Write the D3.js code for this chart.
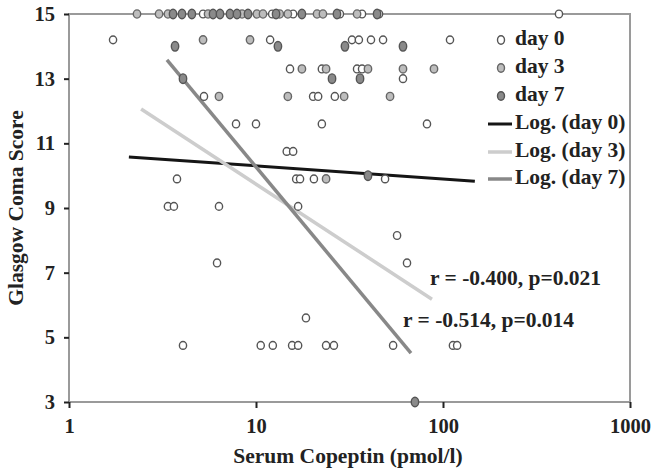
<!DOCTYPE html>
<html><head><meta charset="utf-8">
<script src="https://cdn.jsdelivr.net/npm/d3@7"></script>
<style>body{margin:0;background:#fff}svg{display:block}text{font-family:"Liberation Serif","Times New Roman",serif;font-weight:bold;fill:#222}</style>
</head><body>
<script>
// ---- data ----
const day0X = [5.21,12.2,15.8,28.1,36.9,45.5,417, 1.72,11.9,32.6,35.5,41.2,47.8,109, 15.2,22.5,34.7,36.9, 61.1, 5.27,20.2,21.5,26.4, 7.82,10.0,22.5,82.1, 14.6,15.8, 3.78,16.4,17.2,20.4,49.0, 3.38,3.64,6.34,16.8, 56.8, 6.19,64.2, 18.5, 4.07,10.6,12.3,15.6,16.8,23.7,26.1,54.1,113,119];
const day0Y = [15,15,15,15,15,15,15, 14.2,14.2,14.2,14.2,14.2,14.2,14.2, 13.3,13.3,13.3,13.3, 13.0, 12.45,12.45,12.45,12.45, 11.6,11.6,11.6,11.6, 10.75,10.75, 9.9,9.9,9.9,9.9,9.9, 9.05,9.05,9.05,9.05, 8.15, 7.3,7.3, 5.6, 4.75,4.75,4.75,4.75,4.75,4.75,4.75,4.75,4.75,4.75];
const day3X = [2.31,3.03,3.38,5.54,8.42,10.1,10.9,13.4,14.8,21.2,22.8,34.7, 5.21,9.29, 17.6,23.7,39.7,61.1,89.5, 6.34,14.8,29.6,52.1, 23.7];
const day3Y = [15,15,15,15,15,15,15,15,15,15,15,15, 14.2,14.2, 13.3,13.3,13.3,13.3,13.3, 12.45,12.45,12.45,12.45, 9.9];
const day7X = [3.60,4.02,4.54,5.89,6.42,7.26,7.91,9.06,12.8,17.6,27.1,44.4, 3.69,13.1,29.9,61.1, 4.07,25.5,36.0, 39.7, 70.8];
const day7Y = [15,15,15,15,15,15,15,15,15,15,15,15, 14.0,14.0,14.0,14.0, 13.0,13.0,13.0, 10.0, 3];
// trendline endpoints [x1,x2], [y1,y2]
const trendNames = ["Log. (day 0)","Log. (day 3)","Log. (day 7)"];
const trendX = [[2.09,148],[2.43,87.3],[3.34,67.4]];
const trendY = [[10.58,9.83],[12.06,6.18],[13.58,4.51]];
const seriesNames = ["day 0","day 3","day 7"];
const xTicks = [1,10,100,1000];
const yTicks = [3,5,7,9,11,13,15];
const annotations = ["r = -0.400, p=0.021","r = -0.514, p=0.014"];
const annotX = [85.2,61.1];
const annotY = [6.77,5.47];

// ---- drawing ----
const W=652,H=469;
const svg=d3.select("body").append("svg").attr("width",W).attr("height",H);
const x=d3.scaleLog().domain([1,1000]).range([69,630]);
const y=d3.scaleLinear().domain([3,15]).range([402,14]);

const markerStyle=[{fill:"#fff",stroke:"#555",rx:3.6,ry:3.9},{fill:"#bdbdbd",stroke:"#666",rx:3.7,ry:4.1},{fill:"#8a8a8a",stroke:"#555",rx:3.7,ry:4.8}];
const lineStyle=[{stroke:"#151515",w:3},{stroke:"#cdcdcd",w:3.5},{stroke:"#888",w:3.5}];

// frame
const g=svg.append("g");
g.append("rect").attr("x",69).attr("y",14).attr("width",561).attr("height",388)
 .attr("fill","none").attr("stroke","#9a9a9a").attr("stroke-width",2);

// axes
const yAxis=d3.axisLeft(y).tickValues(yTicks).tickFormat(d3.format("d")).tickSize(5).tickPadding(9);
const ya=svg.append("g").attr("transform","translate(69,0)").call(yAxis);
const xAxis=d3.axisBottom(x).tickValues(xTicks).tickFormat(d3.format("d")).tickSize(6).tickPadding(10);
const xa=svg.append("g").attr("transform","translate(0,402)").call(xAxis);
[ya,xa].forEach(a=>{a.select(".domain").remove();a.selectAll(".tick line").attr("stroke","#222").attr("stroke-width",2);
 a.selectAll(".tick text").attr("font-size",20.5).style("font-family","'Liberation Serif',serif").style("font-weight","bold").attr("fill","#222");});

svg.append("text").attr("x",348).attr("y",458).attr("text-anchor","middle").attr("dominant-baseline","middle")
 .attr("font-size",21.5).text("Serum Copeptin (pmol/l)");
svg.append("text").attr("transform","translate(18,208) rotate(-90)").attr("text-anchor","middle").attr("dominant-baseline","middle")
 .attr("font-size",21.5).text("Glasgow Coma Score");

// trend lines
trendX.forEach((tx,i)=>{
  svg.append("line").attr("x1",x(tx[0])).attr("x2",x(tx[1])).attr("y1",y(trendY[i][0])).attr("y2",y(trendY[i][1]))
   .attr("stroke",lineStyle[i].stroke).attr("stroke-width",lineStyle[i].w);
});

// points
const series=[[day0X,day0Y],[day3X,day3Y],[day7X,day7Y]];
series.forEach((s,i)=>{
  const pts=s[0].map((v,j)=>[v,s[1][j]]);
  svg.append("g").selectAll("ellipse").data(pts).join("ellipse")
   .attr("cx",d=>x(d[0])).attr("cy",d=>y(d[1])).attr("rx",markerStyle[i].rx).attr("ry",markerStyle[i].ry)
   .attr("fill",markerStyle[i].fill).attr("stroke",markerStyle[i].stroke).attr("stroke-width",1.4);
});

// annotations
annotations.forEach((t,i)=>{
  svg.append("text").attr("x",x(annotX[i])).attr("y",y(annotY[i])).attr("dominant-baseline","middle")
   .attr("font-size",21.5).text(t);
});

// legend
const lg=svg.append("g");
const legY=[40,68,96,124,152,179];
seriesNames.forEach((n,i)=>{
  lg.append("ellipse").attr("cx",501).attr("cy",legY[i]).attr("rx",3.5).attr("ry",4.2)
   .attr("fill",markerStyle[i].fill).attr("stroke",markerStyle[i].stroke).attr("stroke-width",1.4);
  lg.append("text").attr("x",515).attr("y",legY[i]).attr("dominant-baseline","middle").attr("font-size",21.5).text(n);
});
trendNames.forEach((n,i)=>{
  const yy=legY[i+3];
  lg.append("line").attr("x1",488).attr("x2",512).attr("y1",yy).attr("y2",yy)
   .attr("stroke",lineStyle[i].stroke).attr("stroke-width",lineStyle[i].w);
  lg.append("text").attr("x",515).attr("y",yy).attr("dominant-baseline","middle").attr("font-size",21.5).text(n);
});
</script>
</body></html>
